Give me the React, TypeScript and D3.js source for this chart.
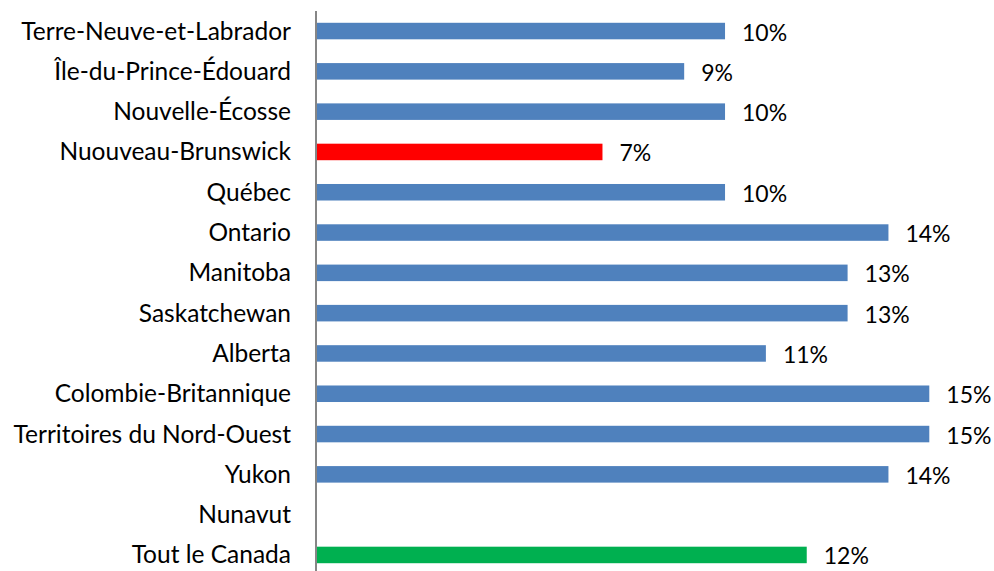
import React, { useMemo } from 'react';
import * as d3 from 'd3';

// Provinces / territories, top to bottom
const provinces = [
  'Terre-Neuve-et-Labrador',
  'Île-du-Prince-Édouard',
  'Nouvelle-Écosse',
  'Nuouveau-Brunswick',
  'Québec',
  'Ontario',
  'Manitoba',
  'Saskatchewan',
  'Alberta',
  'Colombie-Britannique',
  'Territoires du Nord-Ouest',
  'Yukon',
  'Nunavut',
  'Tout le Canada',
];

// Percentages (Nunavut has no value)
const values: (number | null)[] = [10, 9, 10, 7, 10, 14, 13, 13, 11, 15, 15, 14, null, 12];

const highlightColors: Record<string, string> = {
  'Nuouveau-Brunswick': '#FF0000',
  'Tout le Canada': '#00B050',
};

const WIDTH = 994;
const HEIGHT = 571;
const FONT = 'Lato, "Open Sans", sans-serif';

const App: React.FC = () => {
  const x = useMemo(() => d3.scaleLinear().domain([0, 15]).range([316.5, 929.3]), []);
  const y = useMemo(
    () => d3.scaleBand<string>().domain(provinces).range([10.9, 575.1]).paddingInner(0.59).paddingOuter(0.295),
    []
  );
  const band = d3.scaleBand<string>().domain(provinces).range([10.9, 575.1]);

  return (
    <svg
      width={WIDTH}
      height={HEIGHT}
      style={{ position: 'absolute', left: 0, top: 0, background: '#fff' }}
      fontFamily={FONT}
    >
      {/* category labels */}
      {provinces.map((p) => (
        <text
          key={p}
          x={291}
          y={(band(p) ?? 0) + band.bandwidth() / 2 + 8.5}
          textAnchor="end"
          fontSize={24.5}
          fill="#000"
        >
          {p}
        </text>
      ))}

      {/* bars */}
      {provinces.map((p, i) => {
        const v = values[i];
        if (v == null) return null;
        return (
          <rect
            key={p}
            x={x(0)}
            y={y(p)}
            width={x(v) - x(0)}
            height={y.bandwidth()}
            fill={highlightColors[p] ?? '#4F81BD'}
          />
        );
      })}

      {/* value labels */}
      {provinces.map((p, i) => {
        const v = values[i];
        if (v == null) return null;
        return (
          <text
            key={p}
            x={x(v) + 17}
            y={(band(p) ?? 0) + band.bandwidth() / 2 + 9.5}
            fontSize={23}
            fill="#000"
          >
            {`${v}%`}
          </text>
        );
      })}

      {/* vertical axis */}
      <line x1={316} x2={316} y1={11} y2={HEIGHT} stroke="#868686" strokeWidth={2} />
    </svg>
  );
};

export default App;
